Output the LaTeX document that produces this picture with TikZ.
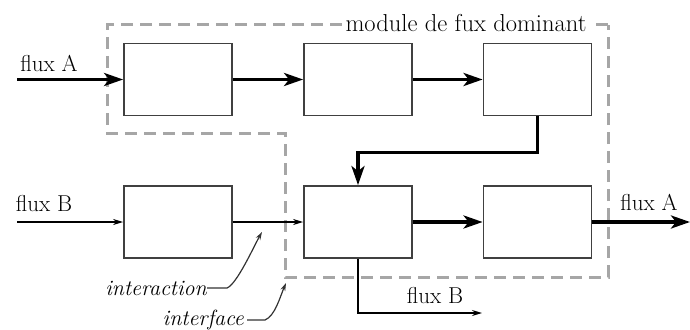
\documentclass[tikz,border=0pt]{standalone}
\usepackage{fontspec}
\setmainfont{Latin Modern Roman}
\usetikzlibrary{arrows.meta}
\begin{document}
\begin{tikzpicture}[x=1pt,y=-1pt,
  blk/.style={draw=black!75,line width=1.8pt,minimum width=108pt,minimum height=72pt,inner sep=0pt},
  thickflow/.style={line width=3.4pt,-{Stealth[length=19pt,width=13pt,inset=5pt]}},
  thinflow/.style={line width=1.4pt,-{Stealth[length=10pt,width=6pt]}},
  leader/.style={draw=black!80,line width=1.2pt,-{Stealth[length=8pt,width=5pt]}},
  iface/.style={draw=black!35,line width=3pt,dash pattern=on 12pt off 7pt},
  lbl/.style={font=\fontsize{23}{27}\selectfont,inner sep=0pt},
  ilbl/.style={font=\fontsize{22}{26}\selectfont\itshape,inner sep=0pt}]
\useasboundingbox (0,0) rectangle (690,329);
% interface (dashed)
\draw[iface] (608,25) -- (107,25) -- (107,133) -- (285,133) -- (285,277) -- (608,277) -- cycle;
\node[lbl,font=\fontsize{24.5}{28}\selectfont,fill=white,inner xsep=4pt,inner ysep=2pt] (title) at (466,23) {module de fux dominant};
% boxes
\node[blk] (b1) at (178,79.5) {};
\node[blk] (b2) at (358,79.5) {};
\node[blk] (b3) at (537.5,79.5) {};
\node[blk] (b4) at (178,222) {};
\node[blk] (b5) at (358,222) {};
\node[blk] (b6) at (537.5,222) {};
% coordinates
\coordinate (inA) at (17,79.5);
\coordinate (inB) at (17,222);
\coordinate (outA) at (690,222);
\coordinate (outB) at (482,313);
% flows
\draw[thickflow] (inA) -- (b1.west);
\draw[thickflow] (b1.east) -- (b2.west);
\draw[thickflow] (b2.east) -- (b3.west);
\draw[thickflow] (b3.south) -- ++(0,36) -| (b5.north);
\draw[thinflow] (inB) -- (b4.west);
\draw[thinflow] (b4.east) -- (b5.west);
\draw[thickflow] (b5.east) -- (b6.west);
\draw[thickflow] (b6.east) -- (outA);
\draw[thinflow] (b5.south) |- (outB);
% labels
\node[lbl] (lA) at (49,63) {flux A};
\node[lbl] (lB) at (44,204) {flux B};
\node[lbl] (rA) at (649,202) {flux A};
\node[lbl] (rB) at (435,296) {flux B};
\node[ilbl,anchor=east] (inter) at (207,288) {interaction};
\node[ilbl,anchor=east] (intf) at (244,320) {interface};
\coordinate (p1) at (262,232);
\coordinate (p2) at (286,283);
\draw[leader] (inter.east) -- ++(20,0) .. controls +(10,-4) and +(-8,14) .. (p1);
\draw[leader] (intf.east) ++(3,0) -- ++(18,0) .. controls +(10,-4) and +(-6,14) .. (p2);
\end{tikzpicture}
\end{document}
